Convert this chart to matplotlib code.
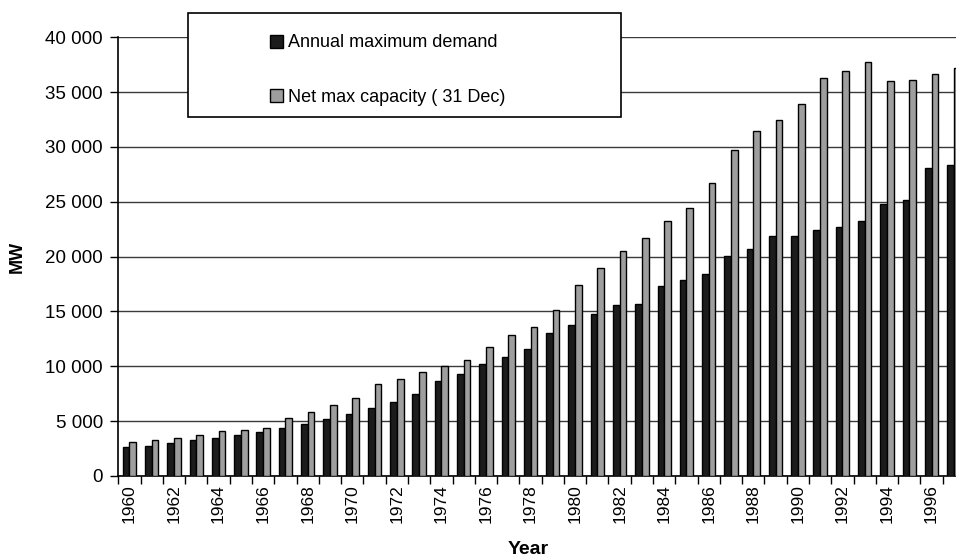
"""Annual maximum demand vs net max capacity, 1960-1997 (bar chart)."""

import matplotlib

matplotlib.use("Agg")
import matplotlib.pyplot as plt
import numpy as np
from matplotlib.patches import Patch, Rectangle

plt.rcParams["font.family"] = ["Liberation Sans", "DejaVu Sans"]

years = list(range(1960, 1998))

# Annual maximum demand (MW)
demand = [
    2680, 2770, 2980, 3320, 3500, 3710, 4020, 4350, 4750, 5180,
    5690, 6210, 6740, 7460, 8620, 9260, 10170, 10840, 11540, 13000,
    13730, 14770, 15570, 15680, 17350, 17870, 18420, 20060, 20700, 21920,
    21920, 22440, 22680, 23260, 24810, 25180, 28060, 28370,
]

# Net max capacity at 31 Dec (MW)
capacity = [
    3130, 3290, 3500, 3780, 4110, 4200, 4410, 5330, 5870, 6480,
    7120, 8370, 8880, 9500, 9990, 10540, 11720, 12850, 13580, 15160,
    17440, 18970, 20550, 21710, 23230, 24410, 26700, 29710, 31500, 32450,
    33880, 36280, 36890, 37740, 35980, 36070, 36620, 37230,
]

W, H = 956, 560
fig = plt.figure(figsize=(W / 100, H / 100), dpi=100)
fig.patch.set_facecolor("white")

# axes run a little past the right edge, as in the cropped original
left, right, bottom, top = 118.3, 965.0, 476.0, 37.3
ax = fig.add_axes([left / W, 1 - bottom / H, (right - left) / W, (bottom - top) / H])

x = np.arange(len(years))
bw = 0.3
ax.bar(x - bw / 2, demand, bw, color="#1c1c1c", edgecolor="black", linewidth=1.0, zorder=3)
ax.bar(x + bw / 2, capacity, bw, color="#9e9e9e", edgecolor="black", linewidth=1.0, zorder=3)

ax.set_xlim(-0.5, len(years) - 0.5)
ax.set_ylim(0, 40000)
ax.set_yticks(np.arange(0, 40001, 5000))
ax.set_yticklabels([f"{v:,}".replace(",", " ") for v in range(0, 40001, 5000)], fontsize=13.5)
ax.yaxis.grid(True, color="#3a3a3a", linewidth=1.0)
ax.set_axisbelow(True)

# tick marks between categories, labels on even years
ax.set_xticks(np.arange(-0.5, len(years), 1), minor=True)
even = [i for i, y in enumerate(years) if y % 2 == 0]
ax.set_xticks(even)
ax.set_xticklabels([str(years[i]) for i in even], rotation=90, fontsize=12.5)
ax.tick_params(axis="x", which="major", length=0, pad=6)
ax.tick_params(axis="x", which="minor", length=6, width=1, color="black", direction="out")
ax.tick_params(axis="y", length=6, width=1, color="black", direction="out", pad=5)

for side in ("top", "right"):
    ax.spines[side].set_visible(False)
ax.spines["left"].set_color("black")
ax.spines["bottom"].set_color("black")
ax.spines["left"].set_linewidth(1.2)
ax.spines["bottom"].set_linewidth(1.2)

fig.text(17 / W, 1 - 257 / H, "MW", rotation=90, fontsize=13, fontweight="bold",
         ha="center", va="center")
fig.text(528 / W, 1 - 549 / H, "Year", fontsize=14, fontweight="bold",
         ha="center", va="center")

# legend box
fig.add_artist(Rectangle((188 / W, 1 - 117 / H), 433 / W, 104 / H, transform=fig.transFigure,
                         facecolor="white", edgecolor="black", linewidth=1.2, zorder=5))
handles = [
    Patch(facecolor="#1c1c1c", edgecolor="black", linewidth=1.0),
    Patch(facecolor="#9e9e9e", edgecolor="black", linewidth=1.0),
]
leg = fig.legend(handles, ["Annual maximum demand", "Net max capacity ( 31 Dec)"],
                 loc="center left", bbox_to_anchor=(270 / W, 1 - 70 / H),
                 frameon=False, fontsize=13, handlelength=0.72, handleheight=0.72,
                 handletextpad=0.25, labelspacing=2.05, borderpad=0, borderaxespad=0)
leg.set_zorder(6)

fig.savefig("out.png", dpi=100)
